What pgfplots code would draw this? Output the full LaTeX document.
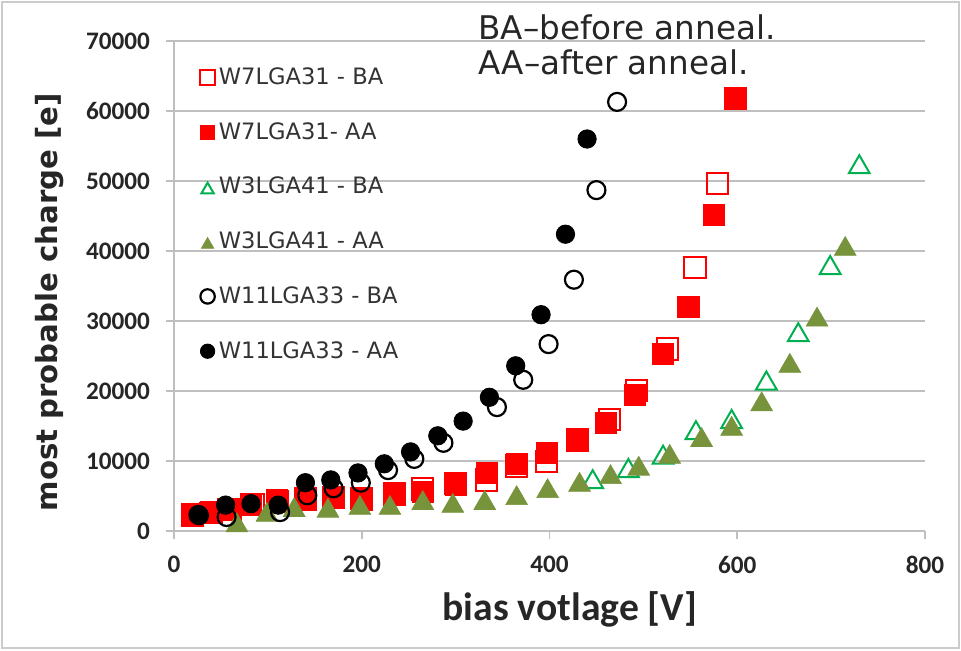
\documentclass[border=0pt]{standalone}
\usepackage{fontspec}
\setmainfont{Carlito}
\newfontfamily\dejavu{DejaVu Sans}
\usepackage{pgfplots}
\pgfplotsset{compat=1.18}
\definecolor{olivegr}{HTML}{77933C}
\definecolor{brgreen}{HTML}{00B050}
\definecolor{gridgray}{HTML}{BFBFBF}
\pgfplotsset{myleg/.style={legend image code/.code={\draw[##1] plot coordinates {(3.5pt,0pt)};}}}
\begin{document}
\begin{tikzpicture}
\begin{axis}[
 scale only axis, width=375.5pt, height=245pt,
 xmin=0, xmax=800, ymin=0, ymax=70000,
 xtick={0,200,...,800}, ytick={0,10000,...,70000},
 axis x line=bottom, axis y line=left,
 axis line style={gridgray, line width=0.8pt, -},
 tick style={gridgray, line width=0.8pt}, tick align=outside, major tick length=4pt,
 ymajorgrids, grid style={gridgray, line width=0.9pt},
 /pgf/number format/assume math mode=true,
 /pgf/number format/1000 sep={},
 scaled y ticks=false,
 tick label style={font=\fontsize{12.6}{14}\selectfont\bfseries, text=black!85},
 yticklabel style={xshift=-4.5pt},
 xticklabel style={yshift=-5pt},
 xlabel={bias votlage [V]},
 xlabel style={at={(axis description cs:0.527,-0.160)}, anchor=center, font=\fontsize{19.8}{22}\selectfont\bfseries, text=black!85},
 ylabel={most probable charge [e]},
 ylabel style={at={(axis description cs:-0.166,0.467)}, anchor=center, font=\dejavu\fontsize{14.6}{17}\selectfont\bfseries, text=black!85},
 clip=false,
 legend style={draw=none, fill=none, at={(axis description cs:0.0346,0.955)}, anchor=north west, inner sep=0pt, row sep=13.5pt, font=\dejavu\fontsize{11.3}{13}\selectfont, text=black!80, cells={anchor=west}},
 legend image post style={mark size=3.6pt},
]
\addplot[only marks, myleg, mark=square, mark size=5.3pt, mark options={draw=red, line width=1pt}] coordinates {
(20,2300)(40,2700)(60,3100)(85,3800)(110,4200)(140,4500)(170,4800)(200,4600)(235,5300)(265,6000)(300,6800)(333,7300)(365,9300)(397,9900)(430,13000)(464,15900)(493,20100)(526,26000)(555,37600)(579,49700)};
\addlegendentry{W7LGA31 - BA}
\addplot[only marks, myleg, mark=square*, mark size=5.3pt, mark options={draw=red, fill=red, line width=0.4pt}] coordinates {
(20,2200)(38,2600)(58,3100)(82,3800)(110,4400)(140,4700)(170,4800)(200,4500)(235,5500)(265,5600)(300,6600)(333,8300)(365,9600)(397,11200)(430,13100)(460,15400)(491,19500)(521,25300)(548,32000)(575,45200)(598,61800)};
\addlegendentry{W7LGA31- AA}
\addplot[only marks, myleg, mark=triangle, mark size=6pt, mark options={draw=brgreen, line width=1pt, yshift=-1.5pt}] coordinates {
(446,7400)(484,9000)(521,10900)(556,14400)(594,16000)(631,21500)(665,28400)(699,38000)(730,52400)};
\addlegendentry{W3LGA41 - BA}
\addplot[only marks, myleg, mark=triangle*, mark size=6.3pt, mark options={draw=olivegr, fill=olivegr, line width=0.3pt, yshift=-1.5pt}] coordinates {
(67,1200)(99,2700)(128,3400)(164,3300)(198,3700)(230,3700)(265,4400)(297,4000)(331,4400)(365,5100)(398,6100)(432,7000)(465,8100)(495,9300)(528,11000)(562,13400)(594,15000)(626,18500)(656,24000)(685,30600)(715,40700)};
\addlegendentry{W3LGA41 - AA}
\addplot[only marks, myleg, mark=o, mark size=4.5pt, mark options={draw=black, line width=1.1pt}] coordinates {
(26,2300)(56,2000)(113,2700)(142,5100)(170,6100)(199,6900)(228,8700)(256,10300)(287,12600)(344,17700)(372,21600)(399,26700)(426,35900)(450,48700)(472,61300)};
\addlegendentry{W11LGA33 - BA}
\addplot[only marks, myleg, mark=*, mark size=4.6pt, mark options={draw=black, fill=black}] coordinates {
(27,2200)(55,3700)(82,3900)(111,3700)(140,6900)(167,7300)(196,8300)(224,9600)(252,11300)(281,13600)(308,15700)(336,19100)(364,23600)(391,30900)(417,42400)(440,56000)};
\addlegendentry{W11LGA33 - AA}
\node[anchor=west, font=\dejavu\fontsize{16.3}{19}\selectfont, text=black!85, inner sep=0pt] at (axis cs:324,72000) {BA–before anneal.};
\node[anchor=west, font=\dejavu\fontsize{16.3}{19}\selectfont, text=black!85, inner sep=0pt] at (axis cs:324,66900) {AA–after anneal.};
\end{axis}
\pgfresetboundingbox
\path[use as bounding box] ([shift={(-87pt,-59.5pt)}]current axis.south west) rectangle ([shift={(18pt,20.5pt)}]current axis.north east);
\draw[black!20, line width=1pt] ([shift={(-86pt,-58.5pt)}]current axis.south west) rectangle ([shift={(17pt,19.5pt)}]current axis.north east);
\end{tikzpicture}
\end{document}
